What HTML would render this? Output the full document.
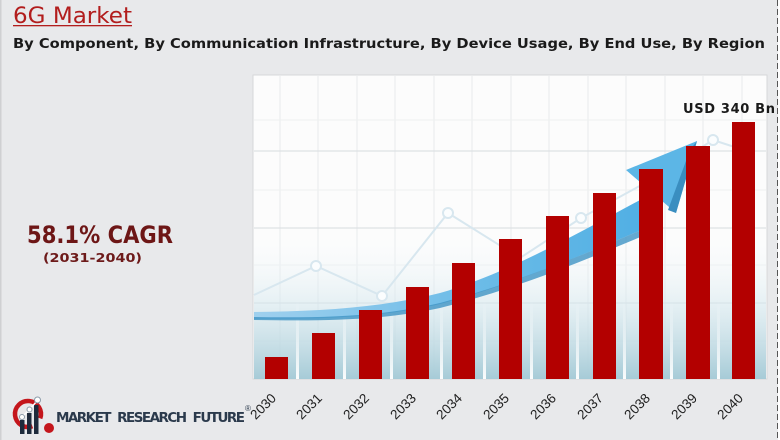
<!DOCTYPE html>
<html><head><meta charset="utf-8">
<style>
html,body{margin:0;padding:0;background:#e8e9eb;}
svg{display:block;}
</style></head>
<body>
<svg width="780" height="440" viewBox="0 0 780 440" xmlns="http://www.w3.org/2000/svg">
<defs>
<linearGradient id="bg" x1="0" y1="0" x2="0" y2="1">
<stop offset="0" stop-color="#ffffff" stop-opacity="0"/>
<stop offset="0.45" stop-color="#d9eaf0" stop-opacity="0.5"/>
<stop offset="1" stop-color="#a6cbd7" stop-opacity="1"/>
</linearGradient>
<linearGradient id="ws" x1="0" y1="0" x2="0" y2="1">
<stop offset="0" stop-color="#ffffff" stop-opacity="0"/>
<stop offset="1" stop-color="#ffffff" stop-opacity="0.95"/>
</linearGradient>
<linearGradient id="sw" x1="0" y1="0" x2="1" y2="0">
<stop offset="0" stop-color="#9fd0ee"/>
<stop offset="0.5" stop-color="#6fbde8"/>
<stop offset="1" stop-color="#4eaee3"/>
</linearGradient>
</defs>
<rect x="0" y="0" width="780" height="440" fill="#e8e9eb"/>
<rect x="0" y="0" width="1.5" height="440" fill="#cfd0d2"/>
<rect x="778" y="0" width="2" height="440" fill="#ffffff"/>
<line x1="777.5" y1="0" x2="777.5" y2="440" stroke="#555" stroke-width="1" stroke-dasharray="6,3"/>

<!-- title -->
<text x="13" y="23" font-family="DejaVu Sans, Liberation Sans, sans-serif" font-size="22" fill="#b21d1d" textLength="119" lengthAdjust="spacingAndGlyphs">6G Market</text>
<rect x="13" y="25" width="119" height="1.3" fill="#b21d1d"/>
<text x="13" y="48" font-family="DejaVu Sans, Liberation Sans, sans-serif" font-size="13" font-weight="bold" fill="#1a1a1a" textLength="752" lengthAdjust="spacingAndGlyphs">By Component, By Communication Infrastructure, By Device Usage, By End Use, By Region</text>

<!-- CAGR -->
<text x="27" y="243" font-family="DejaVu Sans, Liberation Sans, sans-serif" font-size="24" font-weight="bold" fill="#6d1616" textLength="146" lengthAdjust="spacingAndGlyphs">58.1% CAGR</text>
<text x="43" y="262" font-family="DejaVu Sans, Liberation Sans, sans-serif" font-size="12.5" font-weight="bold" fill="#6d1a1a" textLength="99" lengthAdjust="spacingAndGlyphs">(2031-2040)</text>

<!-- chart panel -->
<rect x="253" y="75" width="514" height="304" fill="#fcfcfc" stroke="#d6d8da" stroke-width="1"/>
<g stroke="#f2f3f4" stroke-width="2">
<line x1="280" y1="76" x2="280" y2="378"/><line x1="318" y1="76" x2="318" y2="378"/>
<line x1="357" y1="76" x2="357" y2="378"/><line x1="395" y1="76" x2="395" y2="378"/>
<line x1="434" y1="76" x2="434" y2="378"/><line x1="472" y1="76" x2="472" y2="378"/>
<line x1="511" y1="76" x2="511" y2="378"/><line x1="549" y1="76" x2="549" y2="378"/>
<line x1="588" y1="76" x2="588" y2="378"/><line x1="626" y1="76" x2="626" y2="378"/>
<line x1="665" y1="76" x2="665" y2="378"/><line x1="703" y1="76" x2="703" y2="378"/>
<line x1="742" y1="76" x2="742" y2="378"/>
</g>
<g stroke="#eef0f1" stroke-width="1">
<line x1="254" y1="120" x2="766" y2="120"/><line x1="254" y1="190" x2="766" y2="190"/>
<line x1="254" y1="265" x2="766" y2="265"/><line x1="254" y1="341" x2="766" y2="341"/>
</g>
<g stroke="#dde1e4" stroke-width="1.2">
<line x1="254" y1="151" x2="766" y2="151"/><line x1="254" y1="228" x2="766" y2="228"/>
<line x1="254" y1="303" x2="766" y2="303"/>
</g>
<rect x="254" y="225" width="512" height="154" fill="url(#bg)"/>
<g fill="url(#ws)">
<rect x="296" y="300" width="3" height="79"/><rect x="343" y="300" width="3" height="79"/>
<rect x="390" y="300" width="3" height="79"/><rect x="440" y="300" width="3" height="79"/>
<rect x="483" y="300" width="3" height="79"/><rect x="530" y="300" width="3" height="79"/>
<rect x="576" y="300" width="3" height="79"/><rect x="623" y="300" width="3" height="79"/>
<rect x="670" y="300" width="3" height="79"/><rect x="717" y="300" width="3" height="79"/>
</g>

<!-- faint line -->
<polyline points="254,295 316,266 382,296 448,213 520,258 581,218 647,182 713,140 750,152" fill="none" stroke="#d8e7ef" stroke-width="2"/>
<g fill="#fbfdfe" stroke="#d8e7ef" stroke-width="2">
<circle cx="316" cy="266" r="5"/><circle cx="382" cy="296" r="5"/><circle cx="448" cy="213" r="5"/>
<circle cx="581" cy="218" r="5"/><circle cx="713" cy="140" r="5"/>
</g>

<!-- swoosh arrow -->
<path d="M254,312 C320,311 380,308 440,293 C500,276 570,238 640,200 L660,222 C590,252 520,282 440,304 C380,318 320,319 254,319 Z" fill="url(#sw)"/>
<path d="M254,317 C320,318 380,317 440,303 C520,282 590,252 660,222 L662,228 C590,258 520,288 440,308 C380,321 320,321 254,320 Z" fill="#3f93c4" opacity="0.8"/>
<polygon points="626,170 697,141 676,213" fill="#5cb6e6"/>
<polygon points="697,141 676,213 668,210 690,150" fill="#3a8ec0"/>

<!-- bars -->
<g fill="#b30000">
<rect x="265" y="357" width="23" height="22"/>
<rect x="312" y="333" width="23" height="46"/>
<rect x="359" y="310" width="23" height="69"/>
<rect x="406" y="287" width="23" height="92"/>
<rect x="452" y="263" width="23" height="116"/>
<rect x="499" y="239" width="23" height="140"/>
<rect x="546" y="216" width="23" height="163"/>
<rect x="593" y="193" width="23" height="186"/>
<rect x="639" y="169" width="24" height="210"/>
<rect x="686" y="146" width="24" height="233"/>
<rect x="732" y="122" width="23" height="257"/>
</g>

<text x="683" y="113" font-family="DejaVu Sans, Liberation Sans, sans-serif" font-size="13" font-weight="bold" fill="#1a1a1a" textLength="92" lengthAdjust="spacing">USD 340 Bn</text>

<!-- year labels -->
<g font-family="Liberation Sans, Arial, sans-serif" font-size="13.5" fill="#1e1e1e" text-anchor="end">
<text transform="translate(277,399) rotate(-45)">2030</text>
<text transform="translate(323,399) rotate(-45)">2031</text>
<text transform="translate(370,399) rotate(-45)">2032</text>
<text transform="translate(417,399) rotate(-45)">2033</text>
<text transform="translate(463,399) rotate(-45)">2034</text>
<text transform="translate(510,399) rotate(-45)">2035</text>
<text transform="translate(557,399) rotate(-45)">2036</text>
<text transform="translate(604,399) rotate(-45)">2037</text>
<text transform="translate(651,399) rotate(-45)">2038</text>
<text transform="translate(698,399) rotate(-45)">2039</text>
<text transform="translate(744,399) rotate(-45)">2040</text>
</g>

<!-- logo -->
<path d="M32.4,426.2 A13,13 0 1 1 40.2,418.4" fill="none" stroke="#c4161c" stroke-width="4.5"/>
<circle cx="49" cy="428" r="5" fill="#c4161c"/>
<g fill="#1e2b3c">
<rect x="20" y="420" width="4.5" height="14"/>
<rect x="27" y="413" width="4.5" height="21"/>
<rect x="34" y="405" width="4.5" height="29"/>
</g>
<polyline points="22,417 29,410 37,401" fill="none" stroke="#ffffff" stroke-width="1.5"/>
<g fill="#ffffff" stroke="#8a9aa8" stroke-width="1">
<circle cx="22" cy="417" r="2.5"/><circle cx="29.5" cy="409.5" r="2.5"/><circle cx="37.5" cy="400" r="3"/>
</g>
<text x="56" y="422" font-family="DejaVu Sans, Liberation Sans, sans-serif" font-size="13.5" font-weight="bold" fill="#2b3a4c" textLength="189" lengthAdjust="spacing" word-spacing="4">MARKET RESEARCH FUTURE</text>
<text x="245" y="411" font-family="Liberation Sans, sans-serif" font-size="8" fill="#2b3a4c">®</text>
</svg>
</body></html>
